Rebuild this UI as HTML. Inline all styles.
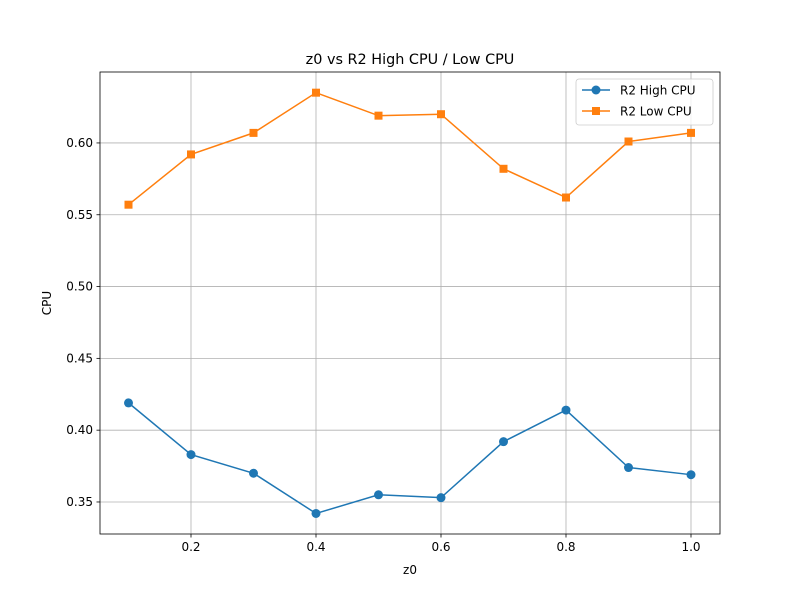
<!DOCTYPE html>
<html><head><meta charset="utf-8"><style>
body{margin:0;background:#fff;}
svg{display:block;font-family:"DejaVu Sans","Liberation Sans",sans-serif;}
</style></head><body>
<svg id="chart" width="800" height="600"></svg>
<script>
const categories=[0.1,0.2,0.3,0.4,0.5,0.6,0.7,0.8,0.9,1.0];
const highCpu=[0.419,0.383,0.370,0.342,0.355,0.353,0.392,0.414,0.374,0.369];
const lowCpu=[0.557,0.592,0.607,0.635,0.619,0.620,0.582,0.562,0.601,0.607];
const xTicks=[0.2,0.4,0.6,0.8,1.0];
const xTickLabels=["0.2","0.4","0.6","0.8","1.0"];
const yTicks=[0.35,0.40,0.45,0.50,0.55,0.60];
const yTickLabels=["0.35","0.40","0.45","0.50","0.55","0.60"];
const L=100,R=720,T=72,B=534;
const xMin=0.0544,xMax=1.0464,yMin=0.3277,yMax=0.6494;
const sx=v=>L+(v-xMin)/(xMax-xMin)*(R-L);
const sy=v=>B-(v-yMin)/(yMax-yMin)*(B-T);
const svg=document.getElementById('chart');
const NS='http://www.w3.org/2000/svg';
function mk(tag,attrs,parent){const e=document.createElementNS(NS,tag);for(const k in attrs)e.setAttribute(k,attrs[k]);(parent||svg).appendChild(e);return e;}
function txt(s,attrs){const e=mk('text',attrs);e.textContent=s;return e;}
xTicks.forEach((t,i)=>{const x=sx(t);
 let g=mk('line',{x1:x,x2:x,y1:T,y2:B,stroke:'#b0b0b0','stroke-width':0.8});
 
 mk('line',{x1:x,x2:x,y1:B,y2:B+3.5,stroke:'#000','stroke-width':0.8});
 let l=txt(xTickLabels[i],{x:x,y:B+17,'text-anchor':'middle','font-size':12});
 });
yTicks.forEach((t,i)=>{const y=sy(t);
 let g=mk('line',{x1:L,x2:R,y1:y,y2:y,stroke:'#b0b0b0','stroke-width':0.8});
 
 mk('line',{x1:L-3.5,x2:L,y1:y,y2:y,stroke:'#000','stroke-width':0.8});
 let l=txt(yTickLabels[i],{x:L-7,y:y+4,'text-anchor':'end','font-size':12});
 });
function series(vals,color,marker,name){
 const g=mk('g',{});
 mk('polyline',{points:vals.map((v,i)=>sx(categories[i])+','+sy(v)).join(' '),fill:'none',stroke:color,'stroke-width':1.5},g);
 vals.forEach((v,i)=>{const x=sx(categories[i]),y=sy(v);let m;
  if(marker==='o')m=mk('circle',{cx:x,cy:y,r:4.5,fill:color},g);
  else m=mk('rect',{x:x-4,y:y-4,width:8,height:8,fill:color},g);
  });
}
series(highCpu,'#1f77b4','o','series-high-cpu');
series(lowCpu,'#ff7f0e','s','series-low-cpu');
let f=mk('rect',{x:L,y:T,width:R-L,height:B-T,fill:'none',stroke:'#000','stroke-width':0.8});

let t=txt('z0 vs R2 High CPU / Low CPU',{x:410,y:64,'text-anchor':'middle','font-size':14.4});

t=txt('z0',{x:410,y:574,'text-anchor':'middle','font-size':12});

t=txt('CPU',{x:51,y:303,'text-anchor':'middle','font-size':12,transform:'rotate(-90 51 303)'});

const lg=mk('g',{});
mk('rect',{x:576,y:79,width:137,height:46,rx:3,fill:'#fff','fill-opacity':0.8,stroke:'#ccc','stroke-width':0.8},lg);
mk('line',{x1:582,x2:610,y1:90,y2:90,stroke:'#1f77b4','stroke-width':1.5},lg);
mk('circle',{cx:596,cy:90,r:4.5,fill:'#1f77b4'},lg);
let e=mk('text',{x:620,y:94.5,'font-size':12},lg);e.textContent='R2 High CPU';

mk('line',{x1:582,x2:610,y1:111,y2:111,stroke:'#ff7f0e','stroke-width':1.5},lg);
mk('rect',{x:592,y:107,width:8,height:8,fill:'#ff7f0e'},lg);
e=mk('text',{x:620,y:115.5,'font-size':12},lg);e.textContent='R2 Low CPU';

</script>
</body></html>
